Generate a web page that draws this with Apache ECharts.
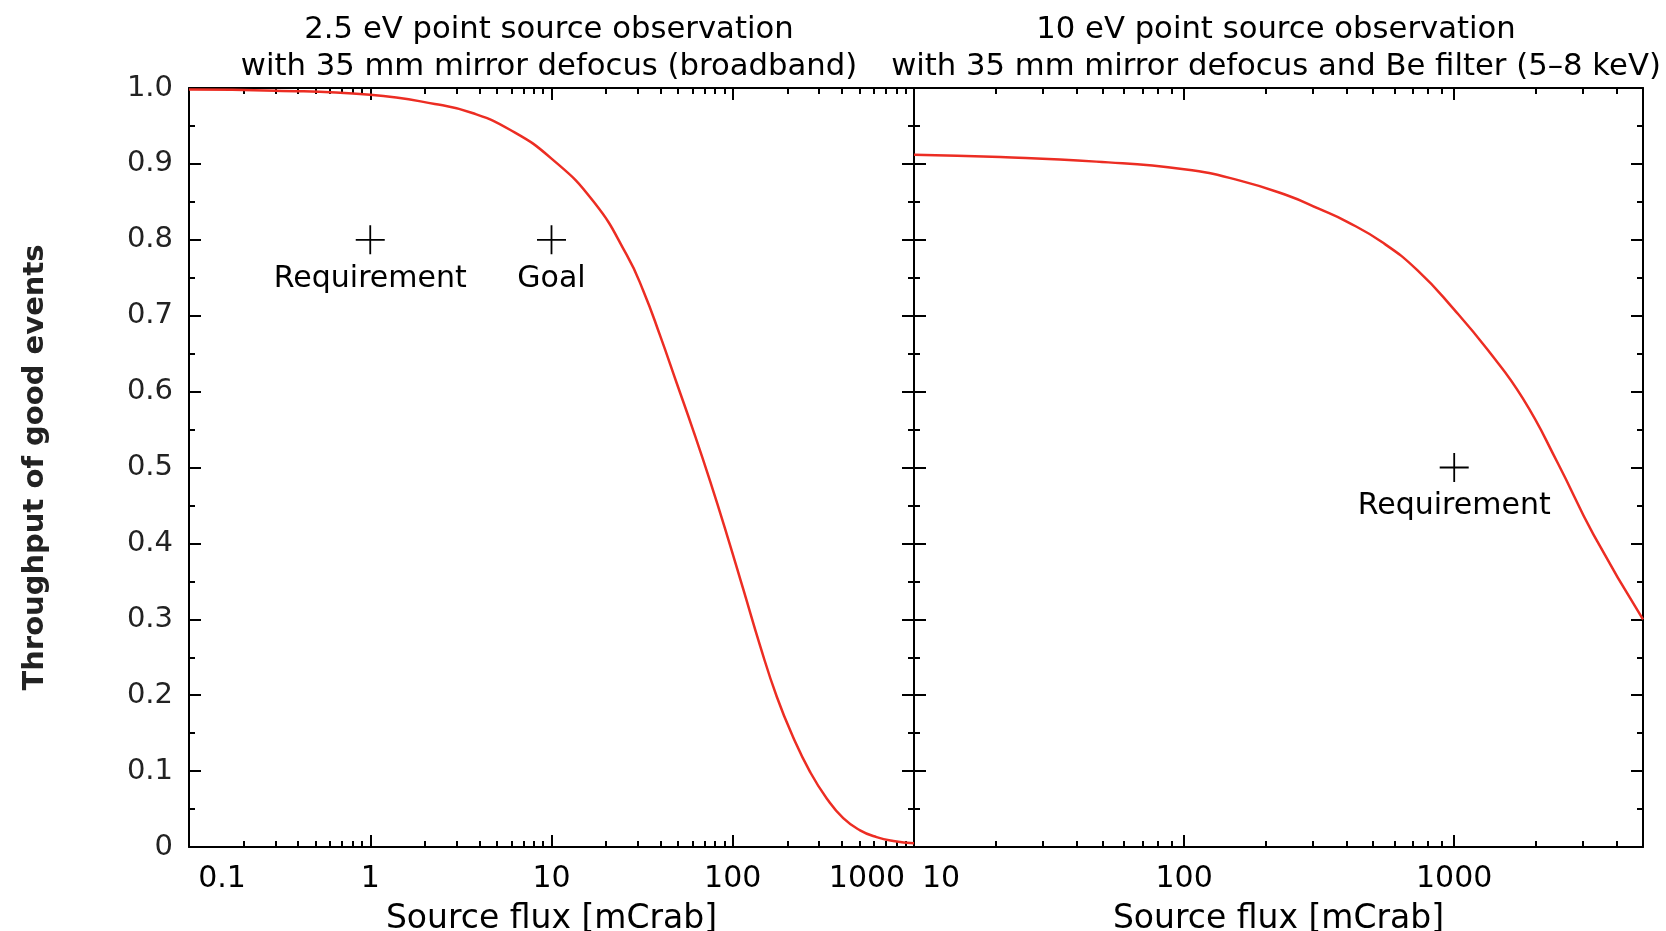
<!DOCTYPE html>
<html>
<head>
<meta charset="utf-8">
<script src="https://cdn.jsdelivr.net/npm/echarts@6/dist/echarts.min.js"></script>
<style>
html,body{margin:0;padding:0;background:#fff;}
#chart{width:1666px;height:931px;}
</style>
</head>
<body>
<div id="chart"></div>
<script>
// ---- data ----
const leftFlux = [0.1, 0.3, 1, 2.27, 3.66, 5.9, 10, 17.1, 26, 32.2, 39.7, 49.1, 60.7, 75, 92.7, 114.5, 141.6, 175, 216, 267, 330, 407, 504, 622, 769, 1000];
const leftThroughput = [0.998, 0.9965, 0.991, 0.979, 0.967, 0.945, 0.907, 0.850, 0.780, 0.732, 0.674, 0.611, 0.548, 0.482, 0.412, 0.339, 0.265, 0.198, 0.144, 0.099, 0.064, 0.038, 0.022, 0.013, 0.008, 0.005];

const rightFlux = [10, 20.9, 47.3, 100, 161, 243, 315, 400, 540, 730, 1000, 1330, 1795, 2425, 3275, 5000];
const rightThroughput = [0.912, 0.909, 0.903, 0.893, 0.878, 0.858, 0.841, 0.824, 0.797, 0.760, 0.708, 0.655, 0.591, 0.505, 0.412, 0.300];

const leftMarkerFlux = [1, 10];
const leftMarkerThroughput = [0.8, 0.8];
const leftMarkerLabels = ['Requirement', 'Goal'];

const rightMarkerFlux = [1000];
const rightMarkerThroughput = [0.5];
const rightMarkerLabels = ['Requirement'];

const leftMajorTicks = [0.1, 1, 10, 100, 1000];
const leftTickLabels = ['0.1', '1', '10', '100', '1000'];
const leftMinorTicks = [0.2, 0.3, 0.4, 0.5, 0.6, 0.7, 0.8, 0.9,
  2, 3, 4, 5, 6, 7, 8, 9,
  20, 30, 40, 50, 60, 70, 80, 90,
  200, 300, 400, 500, 600, 700, 800, 900];

const rightMajorTicks = [10, 100, 1000];
const rightTickLabels = ['10', '100', '1000'];
const rightMinorTicks = [20, 30, 40, 50, 60, 70, 80, 90,
  200, 300, 400, 500, 600, 700, 800, 900,
  2000, 3000, 4000];

const titleLeft = '2.5 eV point source observation\nwith 35 mm mirror defocus (broadband)';
const titleRight = '10 eV point source observation\nwith 35 mm mirror defocus and Be filter (5\u20138 keV)';
const xName = 'Source flux [mCrab]';
const yName = 'Throughput of good events';

// ---- layout ----
const FONT = 'DejaVu Sans';
const G1 = {left: 189, top: 88, width: 725, height: 759};
const G2 = {left: 914, top: 88, width: 729, height: 759};
const RED = '#ec2d23';
const AXW = 2;
const TICKFS = 30;

function near(v, t) { return Math.abs(v / t - 1) < 1e-6; }

function xAxisDef(gridIndex, position, min, max, ticks, length, opts) {
  const o = {
    type: 'log', logBase: 10, gridIndex: gridIndex, position: position,
    min: min, max: max,
    axisLine: {show: false, onZero: false, lineStyle: {color: '#000', width: AXW}},
    axisTick: {show: true, inside: true, length: length, customValues: ticks,
      lineStyle: {color: '#000', width: AXW}},
    axisLabel: {show: false},
    minorTick: {show: false},
    splitLine: {show: false},
    minorSplitLine: {show: false},
    axisPointer: {show: false}
  };
  return Object.assign(o, opts || {});
}

function bottomLabel(majors, labels, firstPad, lastPad) {
  const base = {fontFamily: FONT, fontSize: TICKFS, color: '#000'};
  const rich = {
    n: Object.assign({}, base),
    f: Object.assign({padding: [0, 0, 0, firstPad]}, base),
    l: Object.assign({padding: [0, lastPad, 0, 0]}, base)
  };
  return {
    show: true, customValues: majors, margin: 17,
    fontFamily: FONT, fontSize: TICKFS, color: '#000',
    rich: rich,
    formatter: function (v) {
      for (let i = 0; i < majors.length; i++) {
        if (near(v, majors[i])) {
          if (i === 0 && firstPad) return '{f|' + labels[i] + '}';
          if (i === majors.length - 1 && lastPad) return '{l|' + labels[i] + '}';
          return '{n|' + labels[i] + '}';
        }
      }
      return '';
    }
  };
}

function yAxisDef(gridIndex, position, opts) {
  const o = {
    type: 'value', gridIndex: gridIndex, position: position,
    min: 0, max: 1, interval: 0.1,
    axisLine: {show: true, onZero: false, lineStyle: {color: '#000', width: AXW}},
    axisTick: {show: true, inside: true, length: 12, lineStyle: {color: '#000', width: AXW}},
    minorTick: {show: true, splitNumber: 2, length: 6, lineStyle: {color: '#000', width: AXW}},
    axisLabel: {show: false},
    splitLine: {show: false},
    minorSplitLine: {show: false},
    axisPointer: {show: false}
  };
  return Object.assign(o, opts || {});
}

const axisNameStyle = {fontFamily: FONT, fontSize: 33, color: '#000'};

const xAxes = [
  // left grid
  xAxisDef(0, 'bottom', 0.1, 1000, leftMajorTicks, 12, {
    axisLine: {show: true, onZero: false, lineStyle: {color: '#000', width: AXW}},
    axisLabel: bottomLabel(leftMajorTicks, leftTickLabels, 66, 94),
    name: xName, nameLocation: 'middle', nameGap: 56, nameTextStyle: axisNameStyle
  }),
  xAxisDef(0, 'bottom', 0.1, 1000, leftMinorTicks, 6),
  xAxisDef(0, 'top', 0.1, 1000, leftMajorTicks, 12, {
    axisLine: {show: true, onZero: false, lineStyle: {color: '#000', width: AXW}}
  }),
  xAxisDef(0, 'top', 0.1, 1000, leftMinorTicks, 6),
  // right grid
  xAxisDef(1, 'bottom', 10, 5000, rightMajorTicks, 12, {
    axisLine: {show: true, onZero: false, lineStyle: {color: '#000', width: AXW}},
    axisLabel: bottomLabel(rightMajorTicks, rightTickLabels, 54, 0),
    name: xName, nameLocation: 'middle', nameGap: 56, nameTextStyle: axisNameStyle
  }),
  xAxisDef(1, 'bottom', 10, 5000, rightMinorTicks, 6),
  xAxisDef(1, 'top', 10, 5000, rightMajorTicks, 12, {
    axisLine: {show: true, onZero: false, lineStyle: {color: '#000', width: AXW}}
  }),
  xAxisDef(1, 'top', 10, 5000, rightMinorTicks, 6)
];

const yAxes = [
  yAxisDef(0, 'left', {
    axisLabel: {show: true, margin: 16, fontFamily: FONT, fontSize: 29, color: '#222',
      formatter: function (v) { return v === 0 ? '0' : v.toFixed(1); }},
    name: yName, nameLocation: 'middle', nameRotate: 90, nameGap: 139,
    nameTextStyle: {fontFamily: FONT, fontSize: 29, fontWeight: 'bold', color: '#222'}
  }),
  yAxisDef(0, 'right'),
  yAxisDef(1, 'left'),
  yAxisDef(1, 'right')
];

const plusSymbol = 'path://M-10,0L10,0M0,-10L0,10';
const markerLabel = {
  show: true, position: 'bottom', distance: 7,
  fontFamily: FONT, fontSize: 30, color: '#000'
};

const titleStyle = {fontFamily: FONT, fontSize: 30.7, fontWeight: 'normal', color: '#000', lineHeight: 37};

const option = {
  animation: false,
  backgroundColor: '#fff',
  title: [
    {text: titleLeft, left: 544, top: 7, textAlign: 'center', textStyle: titleStyle},
    {text: titleRight, left: 1271, top: 7, textAlign: 'center', textStyle: titleStyle}
  ],
  grid: [
    Object.assign({containLabel: false, outerBoundsMode: 'none'}, G1),
    Object.assign({containLabel: false, outerBoundsMode: 'none'}, G2)
  ],
  xAxis: xAxes,
  yAxis: yAxes,
  series: [
    {
      type: 'line', xAxisIndex: 0, yAxisIndex: 0,
      data: leftFlux.map(function (x, i) { return [x, leftThroughput[i]]; }),
      symbol: 'none', smooth: 0.5, clip: true, silent: true,
      lineStyle: {color: RED, width: 2.5}
    },
    {
      type: 'line', xAxisIndex: 4, yAxisIndex: 2,
      data: rightFlux.map(function (x, i) { return [x, rightThroughput[i]]; }),
      symbol: 'none', smooth: 0.5, clip: true, silent: true,
      lineStyle: {color: RED, width: 2.5}
    },
    {
      type: 'scatter', xAxisIndex: 0, yAxisIndex: 0,
      data: leftMarkerFlux.map(function (x, i) { return [x, leftMarkerThroughput[i]]; }),
      symbol: plusSymbol, symbolSize: 29, silent: true,
      itemStyle: {color: 'none', borderColor: '#000', borderWidth: 1.8, opacity: 1},
      label: Object.assign({formatter: function (p) { return leftMarkerLabels[p.dataIndex]; }}, markerLabel)
    },
    {
      type: 'scatter', xAxisIndex: 4, yAxisIndex: 2,
      data: rightMarkerFlux.map(function (x, i) { return [x, rightMarkerThroughput[i]]; }),
      symbol: plusSymbol, symbolSize: 29, silent: true,
      itemStyle: {color: 'none', borderColor: '#000', borderWidth: 1.8, opacity: 1},
      label: Object.assign({formatter: function (p) { return rightMarkerLabels[p.dataIndex]; }}, markerLabel)
    }
  ]
};

const chart = echarts.init(document.getElementById('chart'), null, {renderer: 'canvas'});
chart.setOption(option);
</script>
</body>
</html>
